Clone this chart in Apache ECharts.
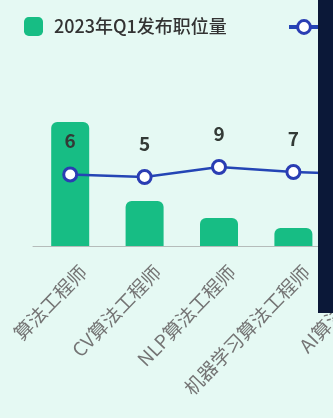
<!DOCTYPE html>
<html>
<head>
<meta charset="utf-8">
<script src="https://cdn.jsdelivr.net/npm/echarts@6/dist/echarts.min.js"></script>
<style>
html,body{margin:0;padding:0;overflow:hidden;background:#e5f9f3;}
#chart{width:420px;height:418px;}
</style>
</head>
<body>
<div id="chart"></div>
<script>
// Data
var categories = ["算法工程师", "CV算法工程师", "NLP算法工程师", "机器学习算法工程师", "AI算法工程师"];
var barName = "2023年Q1发布职位量";
var barValues = [62, 22.5, 14, 9, 6];
var lineName = "环比增长(%)";
var lineValues = [6, 5, 9, 7, 6];

var font = '"Noto Sans CJK SC", "Noto Sans", sans-serif';
var chart = echarts.init(document.getElementById('chart'));
chart.setOption({
  backgroundColor: '#e5f9f3',
  textStyle: {fontFamily: font},
  legend: [
    {
      data: [{name: barName, icon: 'roundRect'}],
      left: 19, top: 12,
      itemWidth: 19, itemHeight: 19,
      textStyle: {fontSize: 18, color: '#333333', fontWeight: 500, fontFamily: font, padding: [0, 0, 0, 6]}
    },
    {
      data: [{name: lineName}],
      left: 282, top: 13,
      itemWidth: 30, itemHeight: 16,
      lineStyle: {width: 4, color: '#2445b5'},
      itemStyle: {color: '#ffffff', borderColor: '#2a3db3', borderWidth: 3},
      textStyle: {fontSize: 18, color: '#333333', fontWeight: 500, fontFamily: font, padding: [0, 0, 0, 6]}
    }
  ],
  grid: {left: 33, right: 15, top: 100, bottom: 172},
  xAxis: {
    type: 'category',
    data: categories,
    axisTick: {show: false},
    axisLine: {lineStyle: {color: '#b5bcba', width: 1}},
    axisLabel: {
      rotate: 46,
      interval: 0,
      margin: 10,
      fontSize: 19,
      color: '#747474',
      fontFamily: font,
      align: 'right',
      verticalAlign: 'top',
      lineHeight: 20,
      padding: [8, 0, 0, 0]
    }
  },
  yAxis: [
    {type: 'value', min: 0, max: 73, show: false, splitLine: {show: false}},
    {type: 'value', min: -22.6, max: 35.8, show: false, splitLine: {show: false}}
  ],
  series: [
    {
      name: barName,
      type: 'bar',
      data: barValues,
      barWidth: 38,
      itemStyle: {color: '#17bd84', borderRadius: [6, 6, 0, 0]}
    },
    {
      name: lineName,
      type: 'line',
      yAxisIndex: 1,
      data: lineValues,
      symbol: 'circle',
      symbolSize: 13,
      lineStyle: {color: '#2445b5', width: 2.5},
      itemStyle: {color: '#ffffff', borderColor: '#2a3db3', borderWidth: 3},
      label: {
        show: true,
        position: 'top',
        distance: 16,
        fontSize: 19,
        fontWeight: 'bold',
        color: '#333a36',
        fontFamily: font
      },
      z: 5
    }
  ],
  graphic: [
    {
      type: 'rect',
      left: 318, top: 0,
      shape: {width: 110, height: 313},
      style: {fill: '#0b1838'},
      z: 100
    }
  ]
});
</script>
</body>
</html>
